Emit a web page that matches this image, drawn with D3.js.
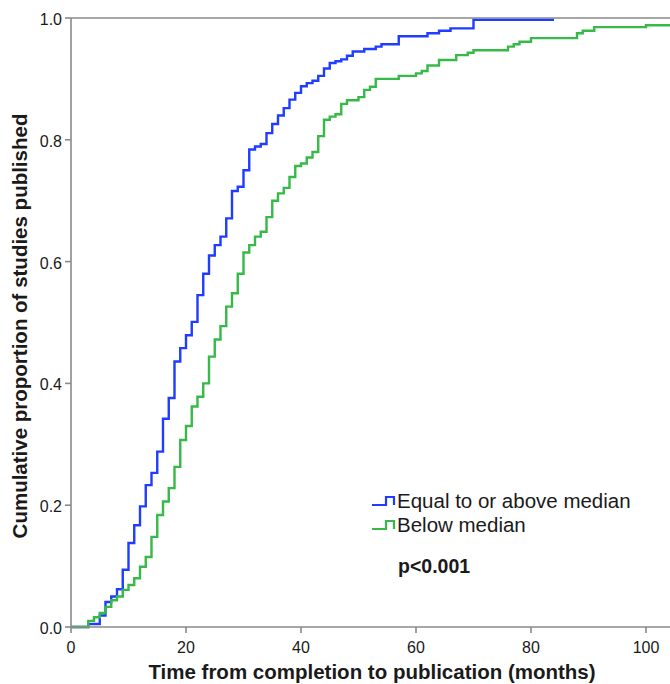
<!DOCTYPE html>
<html>
<head>
<meta charset="utf-8">
<script src="https://cdn.jsdelivr.net/npm/d3@7"></script>
<style>
  html, body { margin: 0; padding: 0; background: #fff; }
  svg { display: block; }
  text { font-family: "Liberation Sans", Arial, sans-serif; fill: #1a1a1a; }
</style>
</head>
<body>
<svg id="chart" width="670" height="684"></svg>
<script>
// ---- data ----
const seriesNames = ["Equal to or above median", "Below median"];
const blueMonths = [0,3,5,6,7,8,9,10,11,12,13,14,15,16,17,18,19,20,21,22,23,24,25,26,27,28,29,30,31,32,33,34,35,36,37,38,39,40,41,42,43,44,45,46,47,48,49,51,53,54,57,62,64,66,70,84];
const blueValues = [0,0.005,0.019,0.041,0.050,0.062,0.094,0.138,0.167,0.198,0.233,0.253,0.288,0.342,0.376,0.436,0.458,0.479,0.501,0.545,0.580,0.610,0.627,0.641,0.671,0.716,0.723,0.750,0.784,0.789,0.793,0.811,0.826,0.840,0.852,0.866,0.877,0.888,0.893,0.897,0.905,0.917,0.926,0.929,0.932,0.938,0.945,0.949,0.953,0.957,0.970,0.975,0.979,0.983,0.997,0.997];
const greenMonths = [0,3,4,5,6,7,8,9,10,11,12,13,14,15,16,17,18,19,20,21,22,23,24,25,26,27,28,29,30,31,32,33,34,35,36,37,38,39,40,41,42,43,44,45,46,47,48,50,51,52,53,57,60,61,62,64,67,69,70,76,77,78,80,88,89,91,100,106];
const greenValues = [0,0.010,0.016,0.023,0.033,0.044,0.050,0.061,0.069,0.080,0.099,0.115,0.148,0.184,0.206,0.228,0.263,0.307,0.330,0.362,0.378,0.400,0.444,0.472,0.494,0.526,0.548,0.580,0.615,0.627,0.641,0.649,0.673,0.700,0.712,0.721,0.739,0.757,0.761,0.771,0.780,0.806,0.833,0.838,0.842,0.859,0.865,0.870,0.882,0.887,0.900,0.905,0.909,0.913,0.922,0.931,0.939,0.943,0.947,0.953,0.957,0.961,0.967,0.975,0.979,0.985,0.988,0.988];
const xTicks = [0,20,40,60,80,100];
const yTicks = [0.0,0.2,0.4,0.6,0.8,1.0];
const xTitle = "Time from completion to publication (months)";
const yTitle = "Cumulative proportion of studies published";
const pText = "p<0.001";
const colors = ["#1f3cff", "#36b947"];

(function () {
  const svg = d3.select("#chart");
  const mLeft = 71, mRight = 670, mTop = 18, mBottom = 627;
  const x = d3.scaleLinear().domain([0, 100]).range([mLeft, 646]);
  const y = d3.scaleLinear().domain([0, 1]).range([mBottom, mTop]);
  const axisColor = "#8a8a8a";

  svg.append("defs").append("clipPath").attr("id", "clip")
    .append("rect").attr("x", mLeft).attr("y", 0).attr("width", mRight - mLeft).attr("height", mBottom + 2);

  // top frame line
  svg.append("line").attr("x1", mLeft).attr("x2", mRight).attr("y1", y(1)).attr("y2", y(1))
    .attr("stroke", axisColor).attr("stroke-width", 1.6);

  // curves
  const line = d3.line().curve(d3.curveStepAfter).x(d => x(d[0])).y(d => y(d[1]));
  const series = [d3.zip(blueMonths, blueValues), d3.zip(greenMonths, greenValues)];
  series.forEach((pts, i) => {
    svg.append("path").attr("d", line(pts)).attr("fill", "none")
      .attr("stroke", colors[i]).attr("stroke-width", 2.4)
      .attr("clip-path", "url(#clip)");
  });

  // x axis
  const xAxis = svg.append("g").attr("transform", `translate(0,${mBottom})`);
  xAxis.append("line").attr("x1", mLeft).attr("x2", mRight).attr("stroke", axisColor).attr("stroke-width", 1.6);
  xAxis.selectAll("line.t").data(xTicks).enter().append("line").attr("class", "t")
    .attr("x1", d => x(d)).attr("x2", d => x(d)).attr("y1", 0).attr("y2", 6)
    .attr("stroke", axisColor).attr("stroke-width", 1.6);
  xAxis.selectAll("text").data(xTicks).enter().append("text")
    .attr("x", d => x(d)).attr("y", 26).attr("text-anchor", "middle")
    .attr("font-size", 16).text(d => d);

  // y axis
  const yAxis = svg.append("g").attr("transform", `translate(${mLeft},0)`);
  yAxis.append("line").attr("y1", mTop).attr("y2", mBottom).attr("stroke", axisColor).attr("stroke-width", 1.6);
  yAxis.selectAll("line.t").data(yTicks).enter().append("line").attr("class", "t")
    .attr("y1", d => y(d)).attr("y2", d => y(d)).attr("x1", -6).attr("x2", 0)
    .attr("stroke", axisColor).attr("stroke-width", 1.6);
  yAxis.selectAll("text").data(yTicks).enter().append("text")
    .attr("x", -9).attr("y", d => y(d) + 7).attr("text-anchor", "end")
    .attr("font-size", 16).text(d => d3.format(".1f")(d));

  // axis titles
  svg.append("text").attr("x", 372).attr("y", 679).attr("text-anchor", "middle")
    .attr("font-size", 20.5).attr("font-weight", "bold").text(xTitle);
  svg.append("text").attr("transform", "translate(27,326) rotate(-90)").attr("text-anchor", "middle")
    .attr("font-size", 20.5).attr("font-weight", "bold").text(yTitle);

  // legend
  const lg = svg.append("g");
  seriesNames.forEach((name, i) => {
    const by = 508 + i * 24;
    lg.append("path")
      .attr("d", `M372,${by - 3} H386 V${by - 11} H394 V${by - 3}`)
      .attr("fill", "none").attr("stroke", colors[i]).attr("stroke-width", 2.2);
    lg.append("text").attr("x", 397).attr("y", by).attr("font-size", 20.5).text(name);
  });
  svg.append("text").attr("x", 398).attr("y", 573).attr("font-size", 19.5)
    .attr("font-weight", "bold").text(pText);
})();
</script>
</body>
</html>
